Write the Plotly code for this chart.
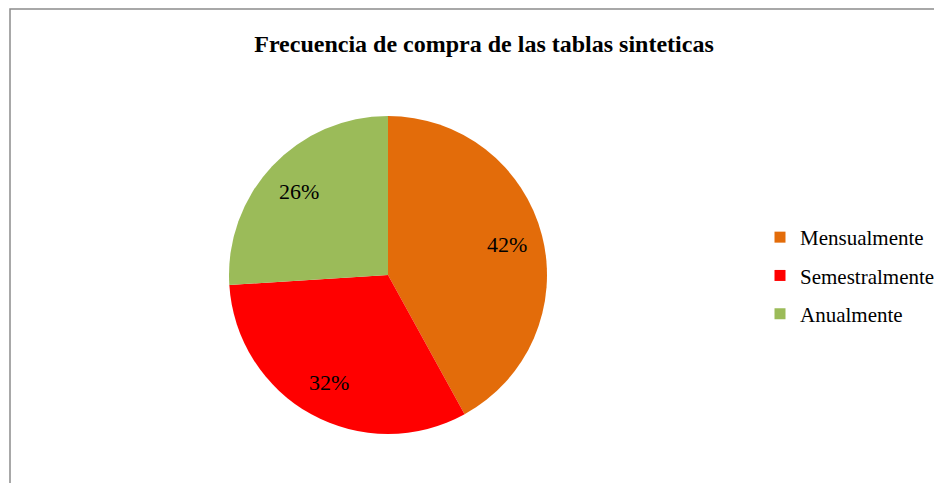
import math
import plotly.graph_objects as go

categories = ["Mensualmente", "Semestralmente", "Anualmente"]
values = [42, 32, 26]
colors = ["#E36C0A", "#FF0000", "#9BBB59"]
title_text = "Frecuencia de compra de las tablas sinteticas"

W, H = 942, 483
OFF = 8  # page body margin offset
cx, cy, r = 388 - OFF, 275 - OFF, 159
FONT = "Liberation Serif"

fig = go.Figure(go.Pie(
    labels=categories, values=values, sort=False, direction="clockwise", rotation=0,
    marker=dict(colors=colors, line=dict(width=0)),
    textinfo="none", showlegend=False,
    domain=dict(x=[(cx - r) / W, (cx + r) / W], y=[1 - (cy + r) / H, 1 - (cy - r) / H]),
    hoverinfo="label+percent",
))

# legend entries as dummy traces (allows spacing control)
for i, (cat, col) in enumerate(zip(categories, colors)):
    fig.add_trace(go.Scatter(x=[None], y=[None], mode="markers", name=cat,
                             legendgroup=f"g{i}",
                             marker=dict(symbol="square", size=11, color=col)))

# percent labels placed from the data
total = sum(values)
cum = 0
annotations = []
for v in values:
    mid = (cum + v / 2) / total * 2 * math.pi
    cum += v
    lx = cx + 0.77 * r * math.sin(mid)
    ly = cy - 0.77 * r * math.cos(mid)
    annotations.append(dict(x=lx / W, y=1 - ly / H, xref="paper", yref="paper",
                            xanchor="center", yanchor="middle",
                            text=f"{round(v / total * 100)}%", showarrow=False,
                            font=dict(family=FONT, size=22, color="black")))

fig.update_layout(
    width=W, height=H,
    margin=dict(l=0, r=0, t=0, b=0),
    paper_bgcolor="white", plot_bgcolor="white",
    xaxis=dict(visible=False), yaxis=dict(visible=False),
    title=dict(text=f"<b>{title_text}</b>",
               x=(484 - OFF) / W, xanchor="center", y=1 - (44 - OFF) / H, yanchor="middle",
               font=dict(family=FONT, size=24, color="black")),
    legend=dict(x=(760 - OFF) / W, xanchor="left", y=1 - (217 - OFF) / H, yanchor="top",
                font=dict(family=FONT, size=21, color="black"),
                tracegroupgap=8, itemwidth=30, bgcolor="rgba(0,0,0,0)"),
    annotations=annotations,
    shapes=[dict(type="rect", xref="paper", yref="paper",
                 x0=(10 - OFF) / W, x1=1.2, y0=-0.2, y1=1 - (9 - OFF) / H,
                 line=dict(color="#8C8C8C", width=1.5), fillcolor="rgba(0,0,0,0)")],
)

fig.write_html("out.html")
